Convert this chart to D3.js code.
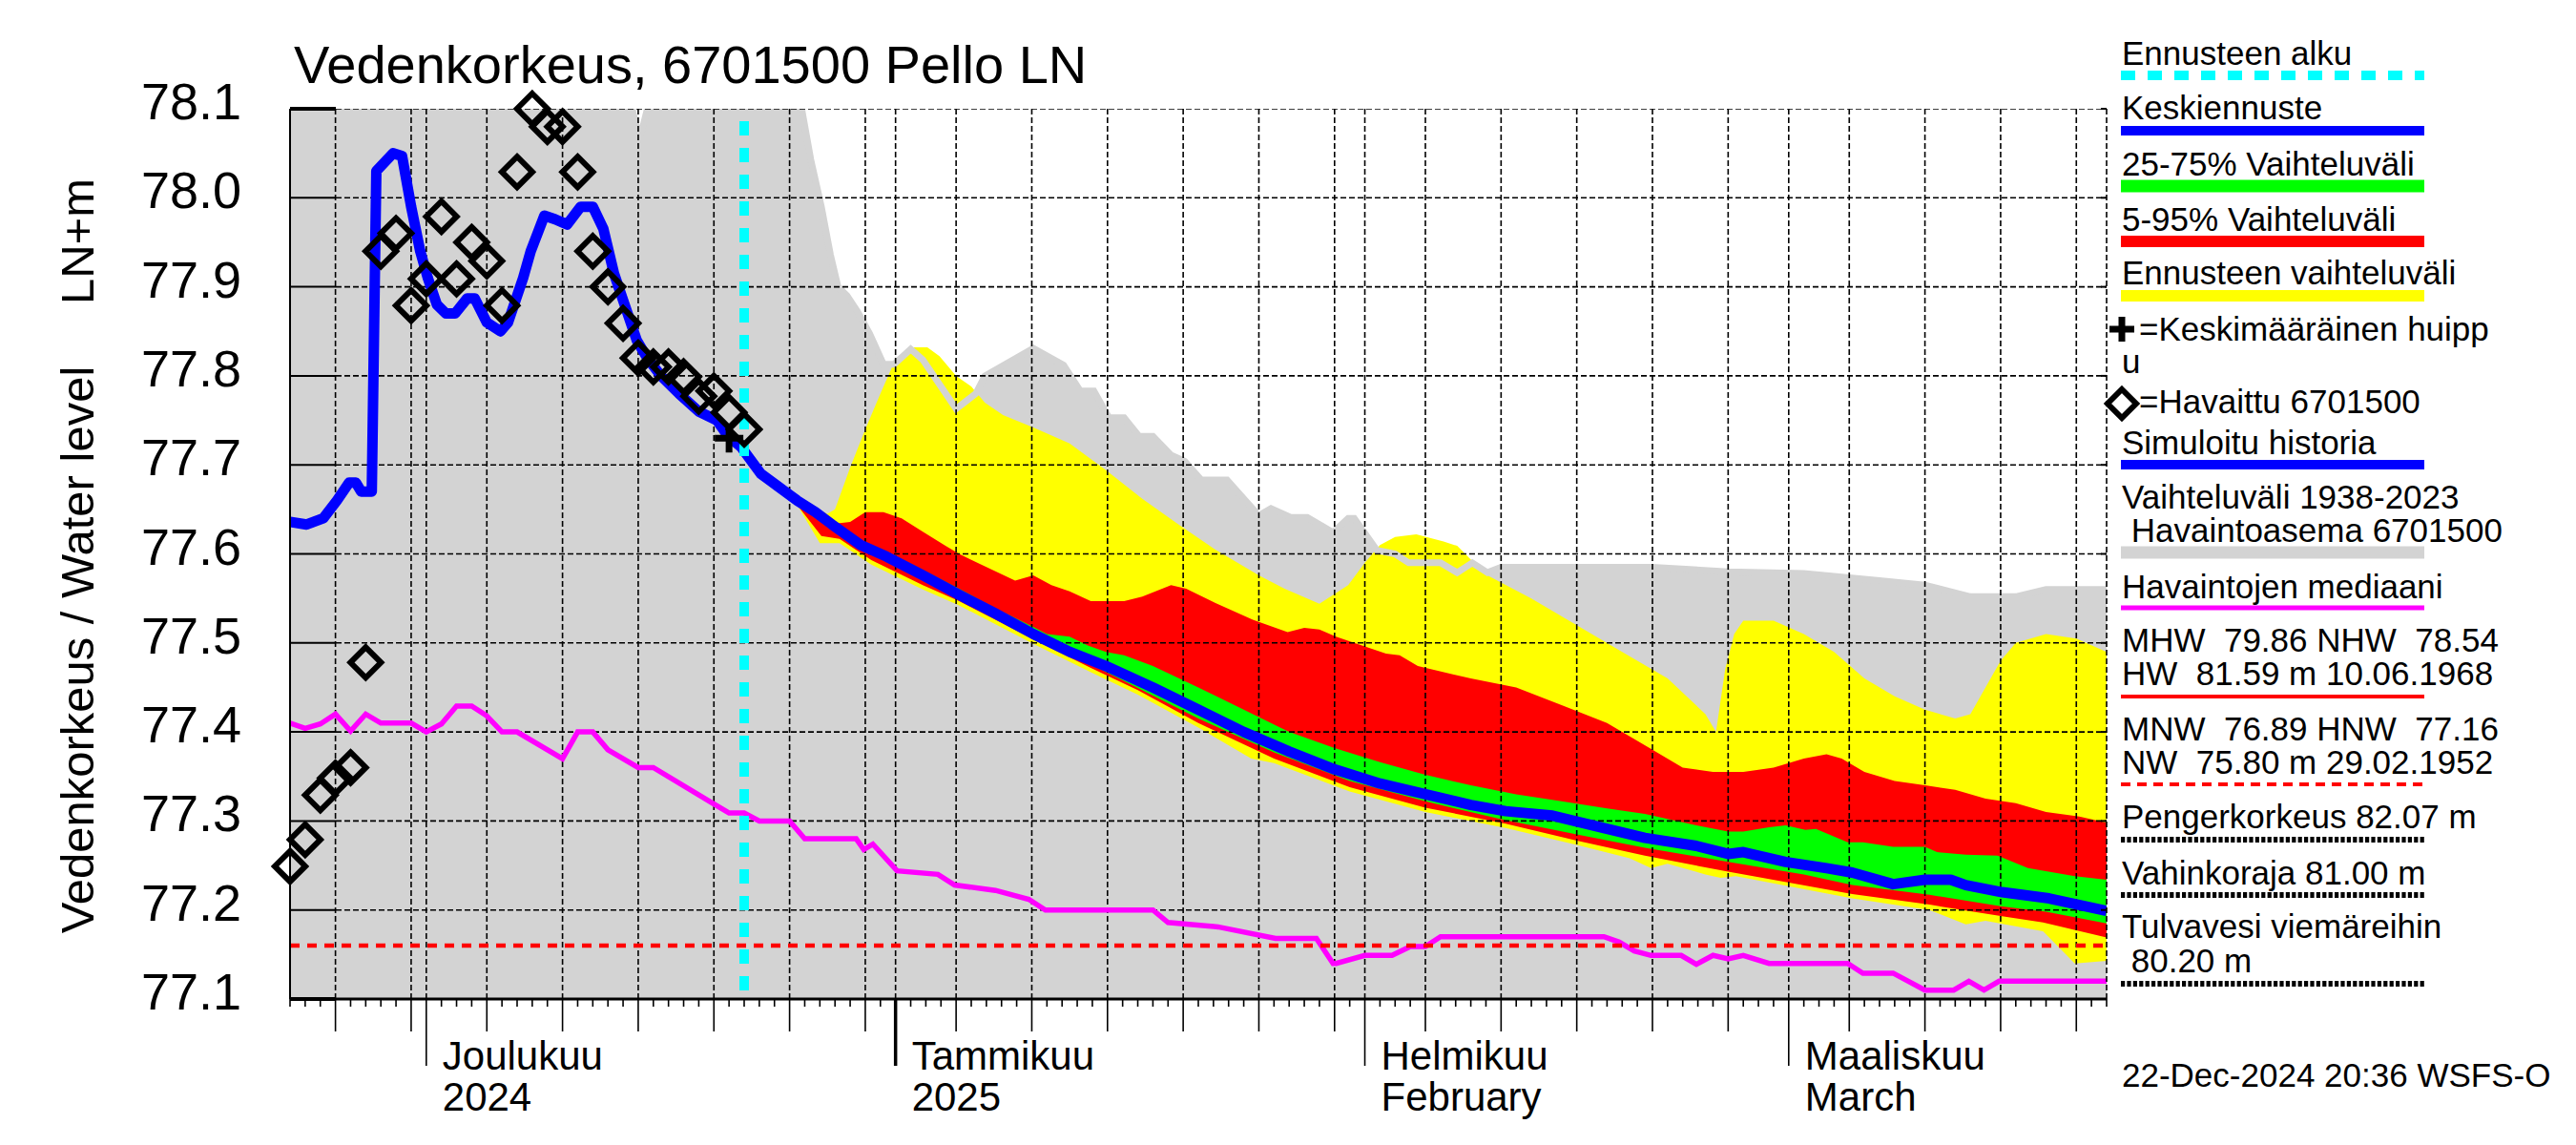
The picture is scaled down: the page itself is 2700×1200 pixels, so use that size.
<!DOCTYPE html>
<html>
<head>
<meta charset="utf-8">
<title>Vedenkorkeus, 6701500 Pello LN</title>
<script src="https://cdn.jsdelivr.net/npm/d3@7"></script>
<style>
  body {margin: 0; background: #fff;}
  text {font-family: "Liberation Sans", Arial, sans-serif; fill: #000;}
</style>
</head>
<body>
<svg id="chart" width="2700" height="1200"></svg>
<script>
// days counted from 22 Nov 2024 00:00 (day 0) to 22 Mar 2025 (day 120)
var T0 = Date.UTC(2024, 10, 22);
var forecastStart = 30;   // 22 Dec 2024
var hnw = 77.16;

// simulated history + mean forecast (Keskiennuste)
var meanLine = [[0,77.636],[1.1,77.633],[2.2,77.64],[3.1,77.66],[3.9,77.68],[4.35,77.68],[4.7,77.67],[5.4,77.67],
  [5.7,78.03],[6.8,78.05],[7.4,78.047],[8.0,77.99],[8.6,77.94],[9.1,77.91],[9.7,77.88],[10.3,77.87],[10.9,77.87],
  [11.7,77.887],[12.2,77.887],[13.0,77.86],[13.9,77.85],[14.4,77.86],[15.4,77.91],[15.9,77.94],[16.8,77.98],
  [17.5,77.976],[18.3,77.97],[19.2,77.99],[20.0,77.99],[20.7,77.965],[21.4,77.915],[22.1,77.88],[22.9,77.84],
  [23.6,77.82],[24.5,77.80],[25.7,77.78],[27.0,77.76],[28.2,77.75],[28.9,77.733],[29.8,77.72],[31.1,77.69],
  [32.3,77.675],[33.5,77.66],[34.7,77.647],[35.8,77.633],[37.7,77.61],[39.4,77.597],[41.8,77.576],[44.2,77.554],
  [46.6,77.533],[49.1,77.51],[51.5,77.49],[53.9,77.474],[57,77.45],[60,77.425],[63,77.40],[66,77.378],[69,77.358],
  [72,77.342],[75,77.33],[78,77.318],[80.3,77.311],[83.4,77.306],[86.8,77.292],[89.5,77.281],[92.9,77.272],
  [95.0,77.263],[96.0,77.265],[98.8,77.254],[101.5,77.247],[103.2,77.242],[105.9,77.229],[108.0,77.234],
  [109.7,77.234],[110.7,77.228],[113.1,77.22],[116.2,77.213],[120,77.199]];

// observed daily levels (Havaittu 6701500), day 0..30
var observed = [77.249,77.279,77.329,77.348,77.36,77.478,77.94,77.96,77.879,77.909,77.979,77.909,77.95,77.929,
  77.879,78.029,78.1,78.08,78.08,78.029,77.94,77.9,77.859,77.82,77.81,77.81,77.799,77.777,77.783,77.759,77.74];

// mean peak (Keskimääräinen huippu)
var meanPeak = [[29, 77.73]];

// median of observations
var median = [[0,77.41],[1,77.404],[2,77.409],[3,77.42],[4,77.401],[5,77.42],[6,77.41],[8,77.41],[9,77.40],
  [10,77.409],[11,77.429],[12,77.429],[13,77.418],[14,77.40],[15,77.40],[18,77.37],[19,77.40],[20,77.40],
  [21,77.38],[23,77.36],[24,77.36],[28,77.319],[29,77.309],[30,77.309],[31,77.30],[33,77.30],[34,77.28],
  [37.4,77.28],[37.9,77.268],[38.5,77.274],[40.1,77.244],[42.8,77.24],[43.9,77.228],[46.6,77.222],[48.8,77.212],
  [49.9,77.2],[57,77.2],[58,77.186],[61.3,77.181],[65.1,77.168],[67.8,77.168],[68.9,77.14],[69.1,77.14],
  [71,77.149],[72.8,77.149],[74,77.159],[75,77.159],[76,77.17],[86.8,77.17],[87.8,77.164],[88.8,77.154],
  [89.9,77.149],[91.9,77.149],[92.9,77.139],[94,77.149],[95,77.145],[96,77.149],[97.7,77.14],[102.9,77.14],
  [103.9,77.129],[105.9,77.129],[108,77.11],[109.9,77.11],[110.9,77.12],[111.9,77.11],[112.9,77.12],[120,77.12]];

// historical range 1938-2023, upper edge (values above 78.1 run off the chart)
var histMax = [[0,78.12],[12.3,78.12],[12.8,78.078],[13.3,78.12],[22.3,78.12],[23.1,78.066],[23.9,78.12],
  [33.6,78.12],[33.8,78.1],[34.4,78.043],[35.1,77.99],[35.7,77.936],[36.2,77.90],[36.8,77.89],[37.5,77.872],
  [38.3,77.847],[39.2,77.813],[39.9,77.813],[41,77.83],[41.8,77.818],[44,77.763],[45.3,77.78],[45.9,77.80],
  [49.1,77.831],[51.1,77.812],[52.2,77.783],[53.1,77.783],[54.1,77.753],[55.1,77.753],[56.1,77.732],[57,77.732],
  [58.2,77.711],[59.1,77.704],[60.2,77.683],[61.9,77.683],[64,77.643],[64.8,77.651],[66.1,77.641],[67.2,77.641],
  [68.9,77.624],[69.9,77.64],[70.3,77.64],[71.8,77.604],[73,77.6],[73.9,77.59],[76,77.59],[77.1,77.579],
  [78.1,77.59],[79.1,77.579],[80,77.585],[84,77.585],[90,77.585],[95,77.58],[100,77.578],[105,77.57],
  [108,77.565],[111,77.552],[114,77.552],[116,77.56],[120,77.56]];

// forecast range (Ennusteen vaihteluväli)
var fcMax = [[33.5,77.66],[35.5,77.645],[36,77.65],[37,77.697],[38,77.74],[39,77.78],[39.9,77.815],[41,77.832],
  [42.1,77.832],[42.9,77.822],[44,77.80],[45,77.788],[45.9,77.77],[47.1,77.756],[49.1,77.742],[51.5,77.724],
  [53.9,77.694],[56.3,77.662],[58.7,77.633],[61.1,77.605],[64,77.576],[65.7,77.561],[68,77.544],[69.9,77.565],
  [71,77.59],[72,77.61],[73,77.619],[74.4,77.622],[76.2,77.614],[77.1,77.609],[78.1,77.592],[79.1,77.576],
  [82,77.55],[85,77.52],[88,77.49],[91,77.46],[93.5,77.42],[94.2,77.40],[94.8,77.47],[95.4,77.51],[96,77.525],
  [98,77.525],[100,77.51],[102,77.49],[104,77.46],[106,77.44],[108,77.425],[110,77.415],[111,77.42],[112,77.45],
  [113,77.48],[114,77.5],[116,77.51],[118,77.505],[120,77.49]];
var fcMin = [[33.5,77.655],[35,77.612],[36.3,77.612],[38.4,77.588],[41.8,77.56],[44.2,77.542],[46.6,77.521],
  [49.1,77.499],[52.9,77.467],[56,77.442],[60,77.405],[63.5,77.37],[65,77.365],[70,77.333],[75,77.31],
  [80.3,77.292],[85,77.273],[88.5,77.258],[89.9,77.247],[91,77.252],[93.5,77.24],[94.5,77.236],[95.5,77.238],
  [103.2,77.213],[108.3,77.2],[110.7,77.184],[112,77.188],[115.8,77.176],[117.9,77.14],[120,77.143]];

// 5-95 % range
var p95 = [[33.5,77.66],[35.5,77.633],[37,77.636],[38,77.647],[39.2,77.647],[40.4,77.64],[41.8,77.625],
  [43.3,77.609],[44.2,77.6],[45.4,77.59],[47.9,77.57],[49.1,77.576],[50.3,77.565],[51.5,77.558],[52.9,77.547],
  [55.1,77.547],[56.3,77.552],[58.2,77.565],[59.2,77.561],[61.1,77.545],[63.6,77.526],[65.9,77.512],[67,77.517],
  [68,77.515],[69.1,77.507],[70.3,77.5],[72.4,77.488],[73.3,77.486],[74.5,77.474],[78,77.46],[81,77.45],
  [84,77.43],[87,77.41],[90,77.38],[92,77.36],[94,77.355],[96,77.355],[98,77.36],[100,77.37],[101.5,77.375],
  [102.5,77.37],[104,77.355],[106,77.345],[108,77.34],[110,77.335],[112,77.325],[114,77.32],[116,77.31],
  [118.2,77.305],[120,77.298]];
var p5 = [[33.5,77.655],[35.1,77.62],[36.3,77.617],[38.4,77.593],[41.8,77.565],[44.2,77.547],[46.6,77.526],
  [49.1,77.504],[52.9,77.472],[56,77.447],[60,77.41],[65,77.37],[70,77.338],[75,77.315],[80.3,77.297],
  [85,77.278],[89.5,77.261],[95,77.243],[103.2,77.218],[108.3,77.206],[113.1,77.193],[115.8,77.186],[120,77.169]];

// 25-75 % range
var p75 = [[33.5,77.66],[37.7,77.614],[39.4,77.603],[41.8,77.582],[44.2,77.561],[46.6,77.539],[49.1,77.518],
  [50,77.51],[51.5,77.507],[52.7,77.497],[53.9,77.49],[55.1,77.486],[57,77.474],[60,77.45],[63,77.425],
  [66,77.40],[69,77.382],[72,77.366],[75,77.352],[78,77.34],[81,77.33],[84,77.322],[87,77.314],[89.5,77.308],
  [92.9,77.295],[95,77.288],[96,77.288],[97.7,77.293],[98.8,77.295],[100.1,77.29],[100.8,77.291],[102.9,77.276],
  [103.9,77.276],[105.9,77.271],[108,77.271],[108.8,77.265],[110.7,77.262],[112.8,77.261],[114.8,77.247],
  [117.9,77.238],[120,77.234]];
var p25 = [[33.5,77.655],[36,77.625],[40,77.59],[45,77.545],[50,77.5],[55,77.458],[60,77.415],[65,77.377],
  [70,77.345],[75,77.322],[80,77.302],[85,77.285],[89.5,77.27],[95,77.254],[100,77.24],[103.2,77.228],
  [108.3,77.217],[113.1,77.204],[116,77.198],[120,77.185]];

var monthNames = [["Joulukuu","2024"],["Tammikuu","2025"],["Helmikuu","February"],["Maaliskuu","March"]];
var monthStarts = [Date.UTC(2024,11,1), Date.UTC(2025,0,1), Date.UTC(2025,1,1), Date.UTC(2025,2,1)];

var legendLabels = ["Ennusteen alku","Keskiennuste","25-75% Vaihteluväli","5-95% Vaihteluväli",
  "Ennusteen vaihteluväli","=Keskimääräinen huipp","u","=Havaittu 6701500","Simuloitu historia",
  "Vaihteluväli 1938-2023"," Havaintoasema 6701500","Havaintojen mediaani",
  "MHW  79.86 NHW  78.54","HW  81.59 m 10.06.1968","MNW  76.89 HNW  77.16","NW  75.80 m 29.02.1952",
  "Pengerkorkeus 82.07 m","Vahinkoraja 81.00 m","Tulvavesi viemäreihin"," 80.20 m"];

var svg = d3.select("#chart");
var L = 304, R = 2208, TOP = 114, BOT = 1047;
var x = d3.scaleLinear().domain([0, 120]).range([L, R]);
var y = d3.scaleLinear().domain([77.1, 78.1]).range([BOT, TOP]);
var dayOf = function(t) { return (t - T0) / 864e5; };

svg.append("clipPath").attr("id", "plot").append("rect")
  .attr("x", L).attr("y", TOP).attr("width", R - L).attr("height", BOT - TOP);

var line = d3.line().x(d => x(d[0])).y(d => y(d[1]));
var band = (hi, lo) => line(hi.concat(lo.slice().reverse())) + "Z";

var plot = svg.append("g").attr("clip-path", "url(#plot)");

plot.append("path")
  .attr("d", d3.area().x(d => x(d[0])).y0(BOT).y1(d => y(d[1]))(histMax))
  .attr("fill", "#d3d3d3");
plot.append("path").attr("d", band(fcMax, fcMin)).attr("fill", "#ffff00");
plot.append("path").attr("d", line(histMax)).attr("fill", "none")
  .attr("stroke", "#d3d3d3").attr("stroke-width", 7);
plot.append("path").attr("d", band(p95, p5)).attr("fill", "#ff0000");
plot.append("path").attr("d", band(p75, p25)).attr("fill", "#00ff00");

// grid
var days = d3.utcDay.range(new Date(T0), new Date(Date.UTC(2025, 2, 23)));
var gridDays = days.filter(d => [1,5,10,15,20,25,30].indexOf(d.getUTCDate()) >= 0);
plot.selectAll(".vgrid").data(gridDays).enter().append("line")
  .attr("x1", d => x(dayOf(d))).attr("x2", d => x(dayOf(d)))
  .attr("y1", TOP).attr("y2", BOT)
  .attr("stroke", "#000").attr("stroke-width", 1.6).attr("stroke-dasharray", "6,3");
var yt = y.ticks(10);
plot.selectAll(".hgrid").data(yt).enter().append("line")
  .attr("x1", L + 48).attr("x2", R).attr("y1", d => y(d)).attr("y2", d => y(d))
  .attr("stroke", "#000").attr("stroke-width", 1.6).attr("stroke-dasharray", "6,3");

plot.append("path").attr("d", line(median)).attr("fill", "none")
  .attr("stroke", "#ff00ff").attr("stroke-width", 5.5);
plot.append("line").attr("x1", L).attr("x2", R).attr("y1", y(hnw)).attr("y2", y(hnw))
  .attr("stroke", "#ff0000").attr("stroke-width", 4.5).attr("stroke-dasharray", "10,8");
plot.append("path").attr("d", line(meanLine)).attr("fill", "none")
  .attr("stroke", "#0000ff").attr("stroke-width", 11).attr("stroke-linejoin", "round");
plot.append("line").attr("x1", x(forecastStart)).attr("x2", x(forecastStart))
  .attr("y1", TOP + 13).attr("y2", BOT)
  .attr("stroke", "#00ffff").attr("stroke-width", 10).attr("stroke-dasharray", "15,13");

var diamond = (cx, cy, r) => "M" + cx + "," + (cy - r) + "L" + (cx + r) + "," + cy + "L" + cx + "," + (cy + r) + "L" + (cx - r) + "," + cy + "Z";
var plus = (cx, cy, r) => "M" + (cx - r) + "," + cy + "H" + (cx + r) + "M" + cx + "," + (cy - r) + "V" + (cy + r);

svg.append("g").selectAll("path").data(observed).enter().append("path")
  .attr("d", (d, i) => diamond(x(i), y(d), 16))
  .attr("fill", "none").attr("stroke", "#000").attr("stroke-width", 6);
svg.append("g").selectAll("path").data(meanPeak).enter().append("path")
  .attr("d", d => plus(x(d[0]), y(d[1]), 15))
  .attr("fill", "none").attr("stroke", "#000").attr("stroke-width", 7);

// axes
svg.append("line").attr("x1", L).attr("x2", L).attr("y1", TOP).attr("y2", BOT).attr("stroke", "#000").attr("stroke-width", 2);
svg.append("line").attr("x1", R).attr("x2", R).attr("y1", TOP).attr("y2", BOT)
  .attr("stroke", "#000").attr("stroke-width", 1.6).attr("stroke-dasharray", "6,3");
svg.append("line").attr("x1", L).attr("x2", R).attr("y1", BOT).attr("y2", BOT).attr("stroke", "#000").attr("stroke-width", 3);
svg.selectAll(".ystub").data(yt).enter().append("line")
  .attr("x1", L).attr("x2", L + 48).attr("y1", d => y(d)).attr("y2", d => y(d))
  .attr("stroke", "#000").attr("stroke-width", (d, i) => (i === 0 || i === yt.length - 1) ? 4 : 2);
svg.selectAll(".yrt").data(yt).enter().append("line")
  .attr("x1", R - 6).attr("x2", R).attr("y1", d => y(d)).attr("y2", d => y(d))
  .attr("stroke", "#000").attr("stroke-width", 2);
svg.selectAll(".ylab").data(yt).enter().append("text")
  .attr("x", 253).attr("y", d => y(d) + 11).attr("text-anchor", "end")
  .attr("font-size", 54).text(d3.format(".1f"));

svg.selectAll(".xt").data(days).enter().append("line")
  .attr("x1", d => x(dayOf(d))).attr("x2", d => x(dayOf(d)))
  .attr("y1", BOT).attr("y2", d => {
    var n = d.getUTCDate();
    if (n === 1) return BOT + 70;
    if (n % 5 === 0) return BOT + 34;
    return BOT + 8;
  })
  .attr("stroke", "#000")
  .attr("stroke-width", d => (d.getUTCDate() === 1 && d.getUTCMonth() === 0) ? 3.5 : 1.6);

monthStarts.forEach(function(t, i) {
  var tx = svg.append("text").attr("x", x(dayOf(t)) + 17).attr("font-size", 42);
  tx.append("tspan").attr("x", x(dayOf(t)) + 17).attr("y", 1121).text(monthNames[i][0]);
  tx.append("tspan").attr("x", x(dayOf(t)) + 17).attr("y", 1164).text(monthNames[i][1]);
});

// titles
svg.append("text").attr("x", 308).attr("y", 87).attr("font-size", 56).text("Vedenkorkeus, 6701500 Pello LN");
svg.append("text").attr("transform", "translate(98,681) rotate(-90)").attr("text-anchor", "middle")
  .attr("font-size", 49).text("Vedenkorkeus / Water level");
svg.append("text").attr("transform", "translate(98,253) rotate(-90)").attr("text-anchor", "middle")
  .attr("font-size", 49).text("LN+m");

// legend
var LX = 2224, LX2 = 2541;
var lg = svg.append("g");
var rows = [
  {t: [0], b: [68], ly: 79, c: "#00ffff", w: 10, dash: "15,13"},
  {t: [1], b: [125], ly: 137, c: "#0000ff", w: 10},
  {t: [2], b: [184], ly: 195, c: "#00ff00", w: 13},
  {t: [3], b: [242], ly: 253, c: "#ff0000", w: 12},
  {t: [4], b: [298], ly: 310, c: "#ffff00", w: 12},
  {t: [8], b: [476], ly: 487, c: "#0000ff", w: 10},
  {t: [9, 10], b: [533, 568], ly: 579, c: "#d3d3d3", w: 13},
  {t: [11], b: [627], ly: 637, c: "#ff00ff", w: 5},
  {t: [12, 13], b: [683, 718], ly: 730, c: "#ff0000", w: 4},
  {t: [14, 15], b: [776, 811], ly: 822, c: "#ff0000", w: 4, dash: "10,7"},
  {t: [16], b: [868], ly: 880, c: "#000", w: 6, dash: "4.2,2.2"},
  {t: [17], b: [927], ly: 938, c: "#000", w: 6, dash: "4.2,2.2"},
  {t: [18, 19], b: [983, 1019], ly: 1031, c: "#000", w: 6, dash: "4.2,2.2"}
];
rows.forEach(function(r) {
  r.t.forEach(function(k, j) {
    lg.append("text").attr("x", LX).attr("y", r.b[j]).attr("font-size", 35)
      .style("white-space", "pre").text(legendLabels[k]);
  });
  lg.append("line").attr("x1", LX - 1).attr("x2", LX2).attr("y1", r.ly).attr("y2", r.ly)
    .attr("stroke", r.c).attr("stroke-width", r.w).attr("stroke-dasharray", r.dash || null);
});
lg.append("path").attr("d", plus(2224, 345, 13)).attr("stroke", "#000").attr("stroke-width", 7).attr("fill", "none");
lg.append("text").attr("x", 2242).attr("y", 357).attr("font-size", 35).text(legendLabels[5]);
lg.append("text").attr("x", LX).attr("y", 391).attr("font-size", 35).text(legendLabels[6]);
lg.append("path").attr("d", diamond(2224, 423, 15)).attr("stroke", "#000").attr("stroke-width", 6).attr("fill", "none");
lg.append("text").attr("x", 2242).attr("y", 433).attr("font-size", 35).text(legendLabels[7]);

svg.append("text").attr("x", LX).attr("y", 1139).attr("font-size", 35).text("22-Dec-2024 20:36 WSFS-O");
</script>
</body>
</html>
